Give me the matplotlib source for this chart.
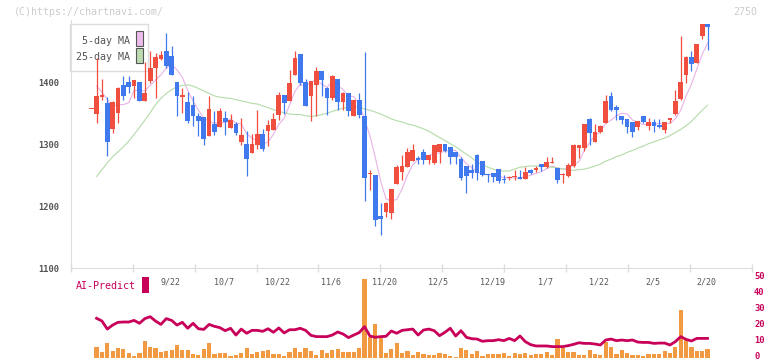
import numpy as np
import pandas as pd
import matplotlib
matplotlib.use("Agg")
import matplotlib.pyplot as plt
from matplotlib.patches import Rectangle
from matplotlib.transforms import blended_transform_factory, ScaledTranslation

plt.rcParams['font.family'] = ['DejaVu Sans Mono']

# TSE trading days 2025/8/29 - 2026/2/20
holidays = ['2025-09-15', '2025-09-23', '2025-10-13', '2025-11-03', '2025-11-24',
            '2025-12-31', '2026-01-01', '2026-01-02', '2026-01-12', '2026-02-11']
dates = pd.bdate_range('2025-08-29', '2026-02-20', freq='C', holidays=holidays)
date_labels = ['9/22', '10/7', '10/22', '11/6', '11/20', '12/5',
               '12/19', '1/7', '1/22', '2/5', '2/20']

opens = [1357, 1349, 1377, 1367, 1324, 1350, 1396, 1400, 1394, 1400,
         1370, 1402, 1423, 1438, 1450, 1442, 1400, 1376, 1368, 1364,
         1346, 1344, 1314, 1333, 1328, 1342, 1327, 1333, 1303, 1301,
         1286, 1299, 1317, 1322, 1323, 1347, 1380, 1370, 1411, 1446,
         1401, 1378, 1395, 1418, 1391, 1374, 1405, 1369, 1383, 1345,
         1371, 1346, 1252, 1250, 1185, 1191, 1190, 1236, 1256, 1264,
         1273, 1278, 1288, 1274, 1270, 1288, 1300, 1295, 1288, 1276,
         1265, 1258, 1283, 1273, 1252, 1254, 1260, 1244, 1246, 1247,
         1248, 1244, 1258, 1258, 1269, 1263, 1270, 1262, 1251, 1249,
         1265, 1294, 1294, 1341, 1303, 1320, 1335, 1378, 1360, 1346,
         1341, 1336, 1328, 1346, 1330, 1336, 1331, 1323, 1339, 1349,
         1373, 1412, 1441, 1431, 1475, 1494]
highs = [1357, 1439, 1405, 1377, 1370, 1392, 1410, 1410, 1404, 1400,
         1433, 1450, 1448, 1450, 1480, 1458, 1400, 1391, 1385, 1378,
         1350, 1344, 1378, 1354, 1358, 1354, 1349, 1336, 1342, 1321,
         1317, 1355, 1325, 1339, 1350, 1384, 1380, 1420, 1451, 1446,
         1406, 1402, 1425, 1418, 1393, 1412, 1405, 1385, 1383, 1372,
         1383, 1449, 1258, 1250, 1205, 1207, 1228, 1267, 1283, 1294,
         1300, 1281, 1292, 1283, 1299, 1300, 1300, 1295, 1288, 1279,
         1265, 1268, 1284, 1273, 1252, 1254, 1260, 1250, 1249, 1258,
         1258, 1263, 1260, 1265, 1269, 1279, 1279, 1262, 1253, 1270,
         1300, 1299, 1333, 1342, 1333, 1331, 1380, 1384, 1363, 1346,
         1341, 1336, 1338, 1346, 1343, 1341, 1341, 1336, 1343, 1388,
         1475, 1442, 1451, 1462, 1494, 1494]
lows = [1357, 1334, 1372, 1281, 1318, 1335, 1371, 1383, 1374, 1370,
        1370, 1399, 1375, 1436, 1423, 1412, 1346, 1350, 1334, 1330,
        1313, 1299, 1313, 1315, 1328, 1315, 1327, 1315, 1299, 1249,
        1286, 1293, 1290, 1298, 1323, 1340, 1349, 1370, 1411, 1395,
        1362, 1338, 1346, 1378, 1348, 1371, 1355, 1355, 1345, 1345,
        1343, 1209, 1226, 1169, 1154, 1182, 1180, 1236, 1243, 1264,
        1273, 1268, 1269, 1269, 1269, 1270, 1288, 1269, 1269, 1242,
        1221, 1245, 1242, 1249, 1240, 1240, 1238, 1237, 1242, 1242,
        1244, 1244, 1252, 1255, 1257, 1261, 1270, 1237, 1237, 1247,
        1264, 1278, 1290, 1299, 1303, 1319, 1335, 1354, 1339, 1333,
        1319, 1311, 1323, 1334, 1323, 1320, 1326, 1318, 1334, 1347,
        1372, 1399, 1418, 1431, 1470, 1452]
closes = [1357, 1378, 1380, 1304, 1368, 1391, 1378, 1393, 1404, 1370,
          1383, 1423, 1440, 1444, 1427, 1412, 1378, 1379, 1337, 1346,
          1337, 1309, 1357, 1320, 1354, 1336, 1339, 1319, 1315, 1277,
          1300, 1317, 1293, 1331, 1341, 1380, 1366, 1399, 1439, 1399,
          1362, 1402, 1418, 1403, 1374, 1410, 1369, 1383, 1353, 1371,
          1347, 1245, 1253, 1178, 1180, 1205, 1228, 1263, 1265, 1288,
          1291, 1275, 1275, 1283, 1299, 1300, 1290, 1280, 1279, 1246,
          1249, 1254, 1253, 1251, 1250, 1248, 1241, 1242, 1248, 1249,
          1244, 1255, 1253, 1262, 1264, 1272, 1272, 1242, 1252, 1267,
          1299, 1299, 1333, 1319, 1320, 1330, 1370, 1355, 1355, 1339,
          1328, 1320, 1338, 1336, 1336, 1330, 1328, 1336, 1342, 1370,
          1400, 1441, 1430, 1462, 1494, 1489]
nan = np.nan
ma5 = [nan, 1394, 1384, 1372, 1361, 1364, 1364, 1367, 1387, 1387,
       1386, 1395, 1404, 1412, 1423, 1429, 1420, 1408, 1387, 1370,
       1355, 1342, 1337, 1334, 1335, 1335, 1341, 1334, 1333, 1317,
       1310, 1306, 1300, 1304, 1316, 1332, 1342, 1363, 1385, 1397,
       1393, 1400, 1404, 1397, 1392, 1401, 1395, 1388, 1378, 1377,
       1365, 1340, 1314, 1279, 1241, 1212, 1209, 1211, 1228, 1250,
       1267, 1276, 1279, 1282, 1285, 1286, 1289, 1290, 1290, 1279,
       1269, 1262, 1256, 1251, 1251, 1251, 1249, 1246, 1246, 1246,
       1245, 1248, 1250, 1253, 1256, 1261, 1265, 1262, 1260, 1261,
       1266, 1272, 1290, 1303, 1314, 1320, 1334, 1339, 1346, 1350,
       1349, 1339, 1336, 1332, 1332, 1332, 1334, 1333, 1334, 1341,
       1355, 1378, 1397, 1421, 1445, 1463]
ma25 = [nan, 1248, 1259, 1270, 1280, 1288, 1296, 1305, 1316, 1327,
        1339, 1351, 1364, 1374, 1382, 1388, 1393, 1395, 1396, 1394,
        1390, 1386, 1382, 1378, 1376, 1375, 1374, 1372, 1370, 1368,
        1366, 1365, 1362, 1359, 1356, 1353, 1351, 1349, 1348, 1348,
        1346, 1345, 1346, 1348, 1350, 1353, 1356, 1358, 1360, 1360,
        1360, 1357, 1355, 1352, 1349, 1345, 1341, 1338, 1336, 1333,
        1331, 1328, 1325, 1321, 1316, 1311, 1306, 1301, 1296, 1290,
        1284, 1278, 1271, 1267, 1263, 1260, 1257, 1257, 1257, 1260,
        1263, 1264, 1265, 1265, 1265, 1264, 1263, 1262, 1260, 1259,
        1258, 1259, 1260, 1262, 1265, 1268, 1273, 1276, 1280, 1283,
        1287, 1290, 1294, 1297, 1301, 1304, 1307, 1310, 1314, 1319,
        1324, 1330, 1337, 1346, 1355, 1363]
volume = [nan, 6.7, 3.5, 9.1, 4.2, 6.0, 5.4, 2.9, 1.1, 2.9,
          10.4, 6.7, 6.0, 3.5, 4.4, 4.8, 7.9, 4.8, 4.8, 2.3,
          1.7, 5.4, 9.1, 2.5, 2.9, 2.9, 1.1, 1.7, 2.9, 6.0,
          2.3, 3.5, 4.2, 4.8, 2.3, 2.3, 1.1, 3.5, 6.0, 3.5,
          6.0, 4.2, 1.7, 4.8, 2.9, 4.8, 5.4, 3.5, 3.5, 3.5,
          6.0, 49.0, 12.9, 21.2, 12.0, 3.0, 5.4, 9.1, 2.9, 4.2,
          1.7, 3.5, 2.3, 1.7, 1.7, 2.9, 2.3, 1.1, 0.6, 6.0,
          4.8, 2.3, 4.2, 1.1, 2.3, 2.3, 2.3, 2.9, 1.1, 2.9,
          2.3, 2.9, 1.7, 2.3, 2.3, 3.5, 1.7, 11.6, 6.0, 3.5,
          3.5, 1.7, 1.7, 4.8, 2.3, 1.7, 9.7, 6.7, 2.3, 4.8,
          2.9, 1.7, 1.7, 1.1, 2.3, 2.3, 2.3, 4.2, 2.9, 6.7,
          29.6, 11.0, 6.7, 4.2, 4.2, 5.4]
ai_predict = [nan, 24.5, 22.8, 17.8, 20.3, 22.0, 22.2, 22.2, 23.2, 21.4,
              24.3, 25.5, 22.8, 20.7, 24.3, 23.2, 20.3, 22.0, 18.3, 21.4,
              18.0, 17.6, 20.7, 19.5, 18.7, 16.8, 18.3, 14.1, 17.8, 15.2,
              17.0, 17.0, 16.4, 18.0, 15.8, 18.5, 15.4, 17.4, 17.4, 18.3,
              17.0, 13.9, 13.1, 13.1, 13.1, 14.1, 16.0, 14.7, 12.5, 14.1,
              15.6, 19.3, 13.5, 12.7, 13.1, 13.3, 16.6, 15.2, 17.0, 17.4,
              17.8, 14.1, 17.2, 17.8, 16.8, 13.7, 15.8, 18.3, 13.5, 16.8,
              12.7, 11.8, 11.6, 10.2, 10.6, 10.6, 11.2, 10.6, 12.0, 10.6,
              13.5, 10.0, 8.1, 7.3, 7.3, 7.3, 6.9, 6.9, 6.9, 7.5,
              8.3, 9.3, 8.9, 8.9, 8.5, 7.9, 11.0, 11.6, 10.6, 11.0,
              10.6, 11.0, 9.7, 9.5, 9.5, 8.9, 9.1, 9.1, 7.9, 10.0,
              13.1, 11.4, 10.4, 12.0, 12.0, 12.0]

W, H = 772, 361
RED, BLUE = '#f04e3e', '#4079ee'
MAGENTA = '#c8005a'


def frac(l, t, r, b):
    return [l / W, 1 - b / H, (r - l) / W, (b - t) / H]


fig = plt.figure(figsize=(W / 100, H / 100), dpi=100)
ax = fig.add_axes(frac(70.7, 20.3, 752, 268.3))
ax2 = fig.add_axes(frac(70.7, 277.3, 752, 357.7))
ax.patch.set_visible(False)
ax2.patch.set_visible(False)
ax.set_zorder(2)

x = np.arange(len(dates))
o = np.array(opens, float)
c = np.array(closes, float)
up = c >= o
cols = np.where(up, RED, BLUE)

xmin, xmax = -3.83, 123.3
ax.set_xlim(xmin, xmax)
ax.set_ylim(1100, 1500)

# legend box (under the candles)
ax.add_patch(Rectangle((70 / W, 1 - 71 / H), 78 / W, 47 / H, transform=fig.transFigure,
                       fc='white', ec='#dddddd', lw=1, zorder=1, clip_on=False))
ax.text(129.5 / W, 1 - 40.5 / H, '5-day MA', transform=fig.transFigure, ha='right',
        va='center', fontsize=7.2, color='#555555', zorder=1)
ax.text(129.5 / W, 1 - 56.5 / H, '25-day MA', transform=fig.transFigure, ha='right',
        va='center', fontsize=7.2, color='#555555', zorder=1)
ax.add_patch(Rectangle((136 / W, 1 - 46 / H), 6.5 / W, 15 / H, transform=fig.transFigure,
                       fc='#ecbcec', ec='#555555', lw=0.8, zorder=1, clip_on=False))
ax.add_patch(Rectangle((136 / W, 1 - 63 / H), 6.5 / W, 15 / H, transform=fig.transFigure,
                       fc='#bcdcb0', ec='#555555', lw=0.8, zorder=1, clip_on=False))

# moving averages
ax.plot(x, ma5, color='#e8b2e8', lw=0.8, zorder=2)
ax.plot(x, ma25, color='#b4dba8', lw=0.8, zorder=2)

# candles
ax.vlines(x, lows, highs, colors=cols, linewidth=0.9, zorder=3)
body = np.maximum(np.abs(c - o), 1.6)
ax.bar(x, body, bottom=np.minimum(o, c), width=0.88, color=cols, zorder=4)

for s in ['top', 'right']:
    ax.spines[s].set_visible(False)
for s in ['left', 'bottom']:
    ax.spines[s].set_color('#dddddd')
ax.set_yticks([1100, 1200, 1300, 1400])
ax.tick_params(axis='y', length=0, pad=8.5, labelsize=6.3, labelcolor='#555555')
for t in ax.get_yticklabels():
    t.set_fontweight('bold')
ax.set_xticks(np.linspace(xmin, xmax, 12))
ax.tick_params(axis='x', direction='inout', length=6, width=1, color='#dddddd',
               labelbottom=False)

# date labels
tr = blended_transform_factory(ax.transData, fig.transFigure)
date_str = ['%d/%d' % (d.month, d.day) for d in dates]
for lbl in date_labels:
    ax.text(date_str.index(lbl) - 0.2, 1 - 282 / H, lbl, transform=tr, ha='center',
            va='center', fontsize=6, color='#555555', clip_on=False)

# volume / AI-Predict panel
ax2.set_xlim(xmin, xmax)
ax2.set_ylim(0, 50)
ax2.bar(x, volume, width=0.78, color='#f29a42', zorder=1)
ax2.plot(x, ai_predict, color=MAGENTA, lw=2.0, zorder=2)
for s in ax2.spines.values():
    s.set_visible(False)
ax2.set_xticks([])
ax2.yaxis.tick_right()
ax2.set_yticks([0, 10, 20, 30, 40, 50])
ax2.tick_params(axis='y', length=0, pad=1.5, labelsize=6.3, labelcolor=MAGENTA)
lift = ScaledTranslation(0, 2 / 100, fig.dpi_scale_trans)
for t in ax2.get_yticklabels():
    t.set_fontweight('bold')
    t.set_transform(t.get_transform() + lift)

fig.text(76 / W, 1 - 286 / H, 'AI-Predict', fontsize=7.2, color=MAGENTA, va='center')
fig.add_artist(Rectangle((142 / W, 1 - 293 / H), 7 / W, 16 / H, transform=fig.transFigure,
                         fc=MAGENTA, ec='none'))

fig.text(14 / W, 1 - 12 / H, '(C)https://chartnavi.com/', fontsize=7.2,
         color='#cccccc', va='center')
fig.text(757 / W, 1 - 12 / H, '2750', fontsize=7.2, color='#cccccc', va='center',
         ha='right')

fig.savefig('out.png', dpi=100)
